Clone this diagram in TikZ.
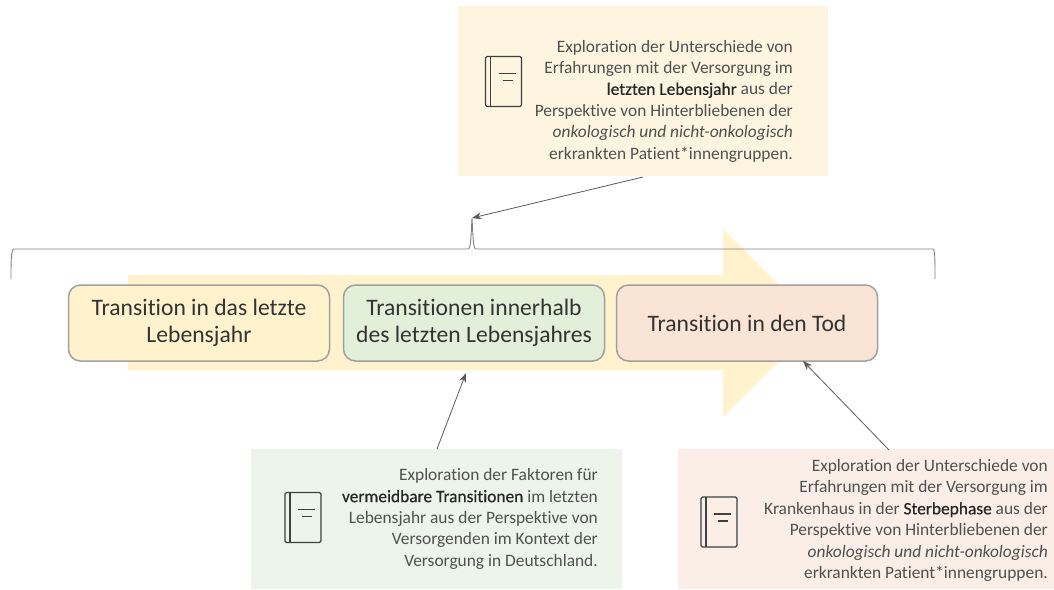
\documentclass[tikz,border=0pt]{standalone}
\usepackage{fontspec}
\setmainfont{Carlito}[Ligatures=CommonOff]
\newfontface\semib{Carlito}[FakeBold=0.5,Ligatures=CommonOff]
\usetikzlibrary{arrows.meta}
\definecolor{yel}{HTML}{FFF2CC}
\definecolor{grn}{HTML}{E2EFD9}
\definecolor{red1}{HTML}{FAE4D6}
\definecolor{yelp}{HTML}{FEF5E1}
\definecolor{grnp}{HTML}{EDF4EB}
\definecolor{redp}{HTML}{FAEEE6}
\definecolor{edge}{HTML}{A0A0A0}
\definecolor{ink}{HTML}{505050}
\newcommand{\hiword}[1]{\textcolor{black!85}{\semib #1}}
\tikzset{
 x=1pt,y=-1pt,
 flow/.style={draw=edge,line width=1.5pt,rounded corners=12pt,minimum width=261pt,minimum height=76pt,inner sep=0pt,align=center,font=\fontsize{23.6}{26.5}\selectfont,text=black!80},
 panel/.style={anchor=north west,inner sep=0pt,outer sep=0pt},
 blurb/.style={anchor=east,inner sep=0pt,align=right,text=ink,font=\fontsize{17.4}{21.4}\selectfont},
 link/.style={-{Stealth[length=9.5pt,width=7pt]},draw=black!65,line width=.8pt},
 bracepath/.style={draw=black!50,line width=.9pt},
 bookicon/.pic={
  \draw[line width=1.1pt,black!75,rounded corners=1.5pt] (0,0) -- (36,0) -- (36,50) -- (0,50) -- cycle;
  \draw[line width=1.1pt,black!75] (5,0) -- (5,50);
  \draw[line width=1.1pt,black!75] (13,17) -- (30,17) (17,24) -- (27,24);
 }
}
\begin{document}
\begin{tikzpicture}
\useasboundingbox (0,0) rectangle (1054,589);
% big arrow
\fill[yel] (128,275) -- (723,275) -- (723,229) -- (817,323) -- (723,417) -- (723,370) -- (128,370) -- cycle;
% brace
\coordinate (spike) at (472,218);
\draw[bracepath] (11,279) .. controls (11,262) and (11,249) .. (14,249) -- (468,249) .. controls (471,249) and (471,235) .. (spike) .. controls (473,235) and (473,249) .. (476,249) -- (933,249) .. controls (935,249) and (935,262) .. (935,279);
% flow boxes
\node[flow,fill=yel] (b1) at (199,323) {Transition in das letzte\\Lebensjahr};
\node[flow,fill=grn] (b2) at (474,323) {Transitionen innerhalb\\des letzten Lebensjahres};
\node[flow,fill=red1] (b3) at (747,323) {Transition in den Tod};
% panels
\node[panel,fill=yelp,minimum width=370pt,minimum height=170pt] (p1) at (458,6) {};
\node[panel,fill=grnp,minimum width=371pt,minimum height=140pt] (p2) at (251,449) {};
\node[panel,fill=redp,minimum width=376pt,minimum height=140pt] (p3) at (678,449) {};
% texts
\node[blurb] (t1) at (793,101) {Exploration der Unterschiede von\\Erfahrungen mit der Versorgung im\\\hiword{letzten Lebensjahr} aus der\\Perspektive von Hinterbliebenen der\\\textit{onkologisch und nicht-onkologisch}\\erkrankten Patient*innengruppen.};
\node[blurb] (t2) at (598,519) {Exploration der Faktoren für\\\hiword{vermeidbare Transitionen} im letzten\\Lebensjahr aus der Perspektive von\\Versorgenden im Kontext der\\Versorgung in Deutschland.};
\node[blurb] (t3) at (1048,520.5) {Exploration der Unterschiede von\\Erfahrungen mit der Versorgung im\\Krankenhaus in der \hiword{Sterbephase} aus der\\Perspektive von Hinterbliebenen der\\\textit{onkologisch und nicht-onkologisch}\\erkrankten Patient*innengruppen.};
% icons
\pic at (485.5,56.5) {bookicon};
\pic at (285,492.5) {bookicon};
\pic at (701,497) {bookicon};
% connectors
\coordinate (s1) at (643,177);
\coordinate (s2) at (437,449);
\coordinate (s3) at (889,450);
\coordinate (e2) at (466,373);
\coordinate (e3) at (803,361);
\draw[link] (s1) -- (spike);
\draw[link] (s2) -- (e2);
\draw[link] (s3) -- (e3);
\end{tikzpicture}
\end{document}
